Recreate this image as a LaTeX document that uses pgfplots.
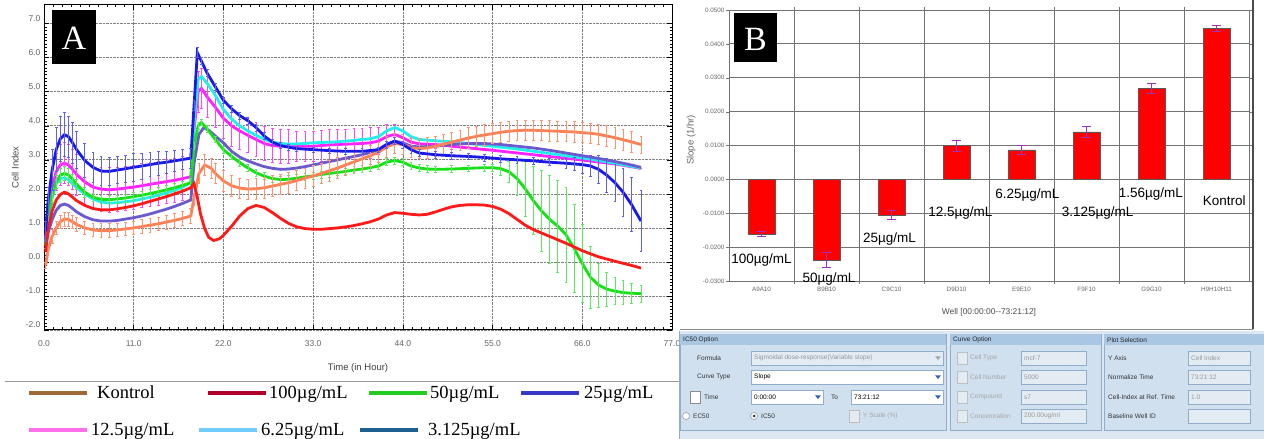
\documentclass[border=0pt]{standalone}
\usepackage{fontspec}
\setmainfont{Liberation Sans}
\newfontfamily\legfont{Liberation Serif}
\usepackage{pgfplots}
\pgfplotsset{compat=1.18}
\usepackage{pgfplotstable}

\definecolor{cBlue}{HTML}{1A1AE6}
\definecolor{cMag}{HTML}{FF22FF}
\definecolor{cCyan}{HTML}{22EEEE}
\definecolor{cGreen}{HTML}{18E018}
\definecolor{cRed}{HTML}{FF1A1A}
\definecolor{cSlate}{HTML}{6A5ACD}
\definecolor{cOrange}{HTML}{FF8055}
\definecolor{lBrown}{HTML}{A0693A}
\definecolor{lRed}{HTML}{B0002A}
\definecolor{lGreen}{HTML}{22CC22}
\definecolor{lBlue}{HTML}{3838C8}
\definecolor{lPink}{HTML}{FF70E8}
\definecolor{lSky}{HTML}{70CCFF}
\definecolor{lTeal}{HTML}{1F6090}
\definecolor{cErr}{HTML}{A030C0}
\definecolor{pBg}{HTML}{DCE7F2}
\definecolor{pGroup}{HTML}{D0E0EF}
\definecolor{pHead}{HTML}{A9C6E3}
\definecolor{pBorder}{HTML}{90AECB}
\definecolor{pDis}{HTML}{E3EBF3}
\definecolor{pArrow}{HTML}{2F5FB8}

\pgfplotstableread{
t y e
0.2 0.9 0.3
0.5 1.8 0.4
1 2.7 0.6
1.5 3.3 0.65
2 3.62 0.65
2.5 3.74 0.65
3 3.68 0.6
3.5 3.5 0.6
4 3.3 0.55
5 2.98 0.5
6 2.78 0.45
7 2.67 0.42
8 2.66 0.4
9 2.7 0.4
10 2.74 0.4
11 2.78 0.4
12 2.82 0.38
13 2.86 0.35
14 2.9 0.35
15 2.93 0.33
16 2.97 0.3
17 3.01 0.3
18 3.05 0.3
18.4 4.6 0.15
18.8 6.15 0.15
19.3 5.9 0.1
20 5.55 0.1
21 5.15 0.1
22 4.75 0.1
23 4.5 0.1
24 4.3 0.1
25 4.15 0.1
26 3.95 0.1
27 3.7 0.1
28 3.52 0.08
29 3.42 0.08
30 3.37 0.08
31 3.33 0.08
33 3.3 0.08
35 3.27 0.08
37 3.25 0.08
39 3.25 0.08
41 3.3 0.08
42 3.45 0.1
43 3.55 0.1
44 3.45 0.1
45 3.3 0.1
46 3.2 0.1
48 3.15 0.1
50 3.12 0.1
52 3.1 0.1
54 3.07 0.1
56 3.03 0.1
58 3.0 0.1
60 2.97 0.1
62 2.93 0.1
64 2.9 0.15
65 2.88 0.2
66 2.86 0.25
67 2.82 0.3
68 2.72 0.4
69 2.55 0.5
70 2.33 0.55
71 2.05 0.7
72 1.7 0.8
73.2 1.2 0.9
}\tblue

\pgfplotstableread{
t y e
0.2 0.7 0.3
0.5 1.4 0.4
1 2.2 0.5
1.5 2.65 0.55
2 2.85 0.6
2.5 2.9 0.6
3 2.85 0.6
3.5 2.72 0.6
4 2.57 0.6
5 2.35 0.65
6 2.2 0.65
7 2.14 0.65
8 2.12 0.65
9 2.14 0.65
10 2.17 0.65
11 2.2 0.65
12 2.24 0.65
13 2.28 0.65
14 2.32 0.65
15 2.36 0.65
16 2.4 0.65
17 2.45 0.65
18 2.5 0.65
18.4 3.9 0.6
18.9 5.0 0.6
19.3 5.1 0.6
20 4.85 0.6
21 4.55 0.6
22 4.22 0.6
23 4.0 0.6
24 3.85 0.55
25 3.72 0.5
26 3.6 0.5
27 3.48 0.5
28 3.42 0.5
29 3.4 0.5
30 3.4 0.5
31 3.4 0.45
32 3.4 0.45
33 3.4 0.45
34 3.42 0.45
35 3.44 0.45
36 3.45 0.45
37 3.46 0.45
38 3.47 0.45
39 3.48 0.45
40 3.5 0.45
41 3.55 0.4
42 3.68 0.35
43 3.75 0.3
44 3.65 0.2
45 3.52 0.1
46 3.47 0.1
48 3.45 0.1
50 3.4 0.1
52 3.35 0
55 3.28 0
60 3.15 0
65 3.02 0
70 2.88 0
73.2 2.75 0
}\tmag

\pgfplotstableread{
t y
0.2 0.6
0.5 1.2
1 1.9
1.5 2.3
2 2.45
2.5 2.47
3 2.42
3.5 2.3
4 2.18
5 2.0
6 1.85
7 1.76
8 1.73
9 1.74
10 1.77
11 1.8
12 1.85
13 1.9
14 1.96
15 2.03
16 2.1
17 2.2
18 2.33
18.4 4.1
18.9 5.35
19.3 5.45
20 5.25
21 4.9
22 4.48
23 4.2
24 4.0
25 3.85
26 3.72
27 3.6
28 3.52
29 3.48
30 3.46
31 3.47
32 3.48
33 3.5
34 3.51
35 3.52
36 3.53
37 3.55
38 3.57
39 3.6
40 3.62
41 3.68
42 3.85
43 3.95
44 3.85
45 3.68
46 3.6
47 3.58
48 3.56
50 3.53
52 3.48
55 3.4
58 3.32
61 3.22
64 3.12
67 3.02
70 2.9
73.2 2.76
}\tcyan

\pgfplotstableread{
t y
0.2 0.45
0.5 0.85
1 1.25
1.5 1.52
2 1.66
2.5 1.7
3 1.66
3.5 1.57
4 1.47
5 1.33
6 1.24
7 1.2
8 1.2
9 1.22
10 1.26
11 1.3
12 1.35
13 1.41
14 1.48
15 1.55
16 1.63
17 1.72
18 1.82
18.4 2.9
19 3.75
19.6 3.95
20.3 3.85
21 3.7
22 3.5
23 3.25
24 3.08
25 2.97
26 2.88
27 2.8
28 2.75
29 2.72
30 2.73
31 2.76
32 2.8
33 2.85
34 2.9
35 2.95
36 3.0
37 3.05
38 3.1
39 3.15
40 3.22
41 3.3
42 3.45
43 3.55
44 3.5
45 3.4
46 3.38
48 3.4
50 3.45
52 3.48
54 3.48
56 3.45
58 3.4
60 3.35
62 3.28
64 3.2
66 3.12
68 3.04
70 2.95
72 2.85
73.2 2.78
}\tslate

\pgfplotstableread{
t y e
0.2 0.5 0.1
0.5 1.25 0.15
1 1.95 0.2
1.5 2.35 0.2
2 2.55 0.2
2.5 2.6 0.2
3 2.55 0.2
3.5 2.43 0.15
4 2.28 0.15
5 2.05 0.15
6 1.9 0.12
7 1.84 0.12
8 1.83 0.12
9 1.85 0.12
10 1.88 0.12
11 1.92 0.12
12 1.96 0.12
13 2.01 0.12
14 2.06 0.12
15 2.12 0.12
16 2.18 0.12
17 2.25 0.12
18 2.33 0.12
18.4 3.4 0.1
18.9 4.0 0.1
19.3 4.1 0.1
20 3.9 0.1
21 3.6 0.1
22 3.3 0.1
23 3.1 0.1
24 2.92 0.1
25 2.76 0.1
26 2.62 0.1
27 2.52 0.1
28 2.45 0.1
29 2.42 0.1
30 2.43 0.1
31 2.46 0.1
32 2.5 0.1
33 2.53 0.1
34 2.57 0.1
35 2.6 0.1
36 2.63 0.1
37 2.66 0.1
38 2.7 0.1
39 2.73 0.1
40 2.77 0.1
41 2.82 0.1
42 2.93 0.1
43 2.98 0.1
44 2.93 0.1
45 2.82 0.1
46 2.76 0.1
47 2.73 0.1
48 2.72 0.1
50 2.73 0.1
52 2.75 0.1
54 2.77 0.1
55 2.77 0.1
56 2.74 0.2
57 2.65 0.3
58 2.45 0.5
59 2.15 0.8
60 1.8 1.0
61 1.5 1.2
62 1.25 1.3
63 1.05 1.35
64 0.8 1.4
65 0.4 1.3
66 -0.05 1.15
67 -0.45 0.9
68 -0.68 0.65
69 -0.8 0.5
70 -0.86 0.4
71 -0.9 0.35
72 -0.92 0.3
73.2 -0.93 0.25
}\tgreen

\pgfplotstableread{
t y
0.2 0.3
0.5 0.95
1 1.5
1.5 1.82
2 1.98
2.5 2.05
3 2.0
3.5 1.9
4 1.8
5 1.66
6 1.57
7 1.53
8 1.53
9 1.56
10 1.6
11 1.65
12 1.71
13 1.78
14 1.85
15 1.92
16 2.0
17 2.08
18 2.18
18.4 2.3
18.8 1.9
19.2 1.4
19.7 0.98
20.2 0.72
20.8 0.63
21.5 0.68
22 0.78
23 1.05
24 1.35
25 1.57
26 1.66
27 1.6
28 1.45
29 1.28
30 1.13
31 1.03
32 0.98
33 0.96
34 0.96
35 0.98
36 1.0
37 1.03
38 1.07
39 1.12
40 1.18
41 1.26
42 1.38
43 1.45
44 1.43
45 1.4
46 1.38
47 1.4
48 1.47
49 1.55
50 1.62
51 1.66
52 1.68
53 1.68
54 1.67
55 1.63
56 1.55
57 1.42
58 1.25
59 1.08
60 0.95
62 0.75
64 0.55
66 0.33
68 0.15
70 0.02
72 -0.1
73.2 -0.18
}\tred

\pgfplotstableread{
t y e
0.2 -0.1 0.1
0.5 0.35 0.15
1 0.75 0.2
1.5 1.0 0.2
2 1.18 0.2
2.5 1.26 0.2
3 1.25 0.2
3.5 1.18 0.2
4 1.1 0.2
5 1.0 0.2
6 0.94 0.2
7 0.92 0.2
8 0.92 0.2
9 0.94 0.2
10 0.97 0.2
11 1.0 0.2
12 1.04 0.2
13 1.08 0.2
14 1.12 0.2
15 1.17 0.2
16 1.22 0.2
17 1.28 0.2
18 1.35 0.22
18.4 1.9 0.25
19 2.6 0.3
19.7 2.85 0.3
20.5 2.75 0.3
21 2.6 0.3
22 2.38 0.3
23 2.24 0.3
24 2.17 0.3
25 2.14 0.3
26 2.15 0.3
27 2.18 0.3
28 2.23 0.3
29 2.28 0.3
30 2.33 0.3
31 2.39 0.3
32 2.46 0.3
33 2.53 0.3
34 2.6 0.3
35 2.68 0.3
36 2.76 0.3
37 2.85 0.3
38 2.94 0.3
39 3.03 0.3
40 3.12 0.3
41 3.22 0.3
42 3.38 0.3
43 3.48 0.3
44 3.45 0.3
45 3.36 0.3
46 3.33 0.3
47 3.35 0.3
48 3.4 0.3
49 3.46 0.3
50 3.52 0.3
51 3.58 0.3
52 3.64 0.3
53 3.69 0.3
54 3.73 0.3
55 3.77 0.3
56 3.81 0.3
57 3.84 0.3
58 3.86 0.3
59 3.87 0.3
60 3.87 0.3
61 3.86 0.3
62 3.85 0.3
63 3.84 0.3
64 3.83 0.3
65 3.82 0.3
66 3.8 0.3
67 3.78 0.3
68 3.75 0.3
69 3.7 0.3
70 3.65 0.3
71 3.59 0.3
72 3.53 0.3
73.2 3.45 0.25
}\torange

\pgfplotstableread{
x y e
0 -0.0162 0.0007
1 -0.0238 0.0022
2 -0.0105 0.0014
3 0.0100 0.0016
4 0.0087 0.0012
5 0.0140 0.0017
6 0.0268 0.0015
7 0.0446 0.0009
}\tbars

\pgfplotsset{
  mylegend/.style={
    legend style={draw=none, fill=none, inner sep=0pt, column sep=0pt, row sep=0pt,
      nodes={inner sep=0pt}, font=\legfont\fontsize{18.5}{19}\selectfont, anchor=west},
    legend cell align=left,
    legend image code/.code={\draw[##1, line width=4pt] (0pt,0pt) -- (58pt,0pt);},
  },
  errA/.style={error bars/.cd, y dir=both, y explicit,
    error bar style={line width=0.7pt, #1},
    error mark options={rotate=90, line width=0.7pt, mark size=1.4pt, #1}},
}

\newcommand{\ptxt}[3][black!80]{\node[anchor=west, inner sep=0pt, font=\fontsize{6.5}{7}\selectfont, text=#1] at (#2) {#3};}
\newcommand{\darr}[3]{\fill[#3] (#1-2.8,#2-1.5) -- (#1+2.8,#2-1.5) -- (#1,#2+2) -- cycle;}

\begin{document}
\begin{tikzpicture}[x=1pt, y=1pt]
\useasboundingbox (0pt,0pt) rectangle (1264pt,439pt);
\fill[white] (0pt,0pt) rectangle (1264pt,439pt);

% ---------------- Panel A ----------------
\begin{axis}[
  at={(44pt,109pt)}, anchor=south west, scale only axis,
  width=628pt, height=325pt,
  xmin=0, xmax=77, ymin=-2, ymax=7.55,
  xtick={0,11,...,77}, ytick={-2,-1,...,7},
  minor x tick num=9, minor y tick num=9,
  tick align=inside, major tick length=5pt, minor tick length=2.5pt,
  tick style={black, line width=0.6pt},
  axis line style={black, line width=1pt},
  grid=major, grid style={densely dotted, black!50, line width=0.7pt},
  /pgf/number format/fixed, /pgf/number format/fixed zerofill,
  /pgf/number format/precision=1, /pgf/number format/assume math mode=true,
  tick label style={font=\fontsize{8.5}{9}\selectfont, text=black!60},
  yticklabel style={yshift=5pt},
  xticklabel style={yshift=-7pt},
  xlabel={Time (in Hour)}, ylabel={Cell Index},
  xlabel style={at={(axis description cs:0.5,-0.117)}, anchor=center, font=\fontsize{9.5}{10}\selectfont, text=black!75},
  ylabel style={at={(axis description cs:-0.046,0.5)}, anchor=center, font=\fontsize{9.5}{10}\selectfont, text=black!70},
  mylegend, legend columns=4,
  legend style={at={(axis description cs:-0.02707,-0.1938)}},
]
\addplot[forget plot, cMag, line width=2.8pt, errA={cMag!85}] table[x=t, y=y, y error=e] {\tmag};
\addplot[forget plot, cCyan, line width=2.8pt] table[x=t, y=y] {\tcyan};
\addplot[forget plot, cSlate, line width=2.8pt] table[x=t, y=y] {\tslate};
\addplot[forget plot, cGreen, line width=2.8pt, errA={cGreen!70}] table[x=t, y=y, y error=e] {\tgreen};
\addplot[forget plot, cOrange, line width=2.8pt, errA={cOrange!85}] table[x=t, y=y, y error=e] {\torange};
\addplot[forget plot, cRed, line width=2.8pt] table[x=t, y=y] {\tred};
\addplot[forget plot, cBlue, line width=2.8pt, errA={cBlue!70}] table[x=t, y=y, y error=e] {\tblue};

\addlegendimage{lBrown}\addlegendentry{\makebox[117pt][l]{\hspace{8pt}Kontrol}}
\addlegendimage{lRed}\addlegendentry{\makebox[99pt][l]{\hspace{1pt}100µg/mL}}
\addlegendimage{lGreen}\addlegendentry{\makebox[90pt][l]{\hspace{1pt}50µg/mL}}
\addlegendimage{lBlue}\addlegendentry{\hspace{3pt}25µg/mL}
\end{axis}

% second legend row
\begin{axis}[
  at={(44pt,109pt)}, anchor=south west, scale only axis,
  width=628pt, height=325pt, hide axis,
  xmin=0, xmax=1, ymin=0, ymax=1,
  mylegend, legend columns=3,
  legend style={at={(axis description cs:-0.02707,-0.3077)}},
]
\addlegendimage{lPink}\addlegendentry{\makebox[108pt][l]{\hspace{2pt}12.5µg/mL}}
\addlegendimage{lSky}\addlegendentry{\makebox[99pt][l]{\hspace{2pt}6.25µg/mL}}
\addlegendimage{lTeal}\addlegendentry{\hspace{8pt}3.125µg/mL}
\end{axis}

% ---------------- Panel B ----------------
\begin{axis}[
  at={(729pt,158pt)}, anchor=south west, scale only axis,
  width=520pt, height=271pt,
  xmin=-0.5, xmax=7.5, ymin=-0.03, ymax=0.05,
  ybar, bar width=27pt, clip=false,
  xtick={0,1,2,3,4,5,6,7},
  xticklabels={A9A10,B9B10,C9C10,D9D10,E9E10,F9F10,G9G10,H9H10H11},
  minor xtick={0.5,1.5,2.5,3.5,4.5,5.5,6.5},
  ytick={-0.03,-0.02,-0.01,0,0.01,0.02,0.03,0.04,0.05},
  scaled y ticks=false,
  yticklabel style={/pgf/number format/fixed, /pgf/number format/fixed zerofill,
    /pgf/number format/precision=4, /pgf/number format/assume math mode=true, inner sep=1.5pt},
  tick label style={font=\fontsize{6.3}{7}\selectfont, text=black!60},
  xminorgrids=true, ymajorgrids=true,
  major grid style={black!55, line width=0.9pt},
  minor grid style={black!55, line width=0.9pt},
  axis line style={black!55, line width=0.9pt},
  major x tick style={draw=none},
  minor x tick style={black!55},
  ytick style={black!55}, tick align=outside, major tick length=3pt, minor tick length=3pt,
  xlabel={Well [00:00:00{-}{-}73:21:12]}, ylabel={Slope (1/hr)},
  xlabel style={at={(axis description cs:0.5,-0.114)}, anchor=center, font=\fontsize{8.4}{9}\selectfont, text=black!70},
  ylabel style={at={(axis description cs:-0.073,0.52)}, anchor=center, font=\fontsize{9.5}{10}\selectfont, text=black!60},
]
\addplot[fill=red, draw=black!65, line width=0.6pt,
  error bars/.cd, y dir=both, y explicit,
  error bar style={cErr, line width=0.8pt},
  error mark options={rotate=90, cErr, line width=0.8pt, mark size=4.5pt}]
  table[x=x, y=y, y error=e] {\tbars};
\begin{scope}[font=\fontsize{13.5}{14}\selectfont]
\node at (axis cs:0,-0.0237) {100µg/mL};
\node at (axis cs:1.04,-0.0295) {50µg/mL};
\node at (axis cs:1.97,-0.0175) {25µg/mL};
\node at (axis cs:3.06,-0.0098) {12.5µg/mL};
\node at (axis cs:4.09,-0.0045) {6.25µg/mL};
\node at (axis cs:5.17,-0.0098) {3.125µg/mL};
\node at (axis cs:5.99,-0.0044) {1.56µg/mL};
\node at (axis cs:7.12,-0.0063) {Kontrol};
\end{scope}
\end{axis}

% ---------------- decorations (pixel coordinates, y downward) ----------------
\begin{scope}[shift={(0pt,439pt)}, yscale=-1]
\fill[black] (52,10) rectangle (96,64);
\node[text=white, font=\legfont\fontsize{34}{34}\selectfont] at (74,38) {A};
\fill[black] (734,13) rectangle (777,62);
\node[text=white, font=\legfont\fontsize{34}{34}\selectfont] at (755.5,39) {B};
\draw[black!40, line width=0.8pt] (5,381) -- (679,381);
% B window frame
\draw[black!70, line width=1.4pt] (1253,0) -- (1253,329);
\draw[black!45, line width=0.8pt] (680,329) -- (1253,329);

% options panel
\fill[pBg] (679,331) rectangle (1264,439);
\draw[pBorder, line width=0.6pt] (679,331) -- (679,439);
\foreach \a/\b in {680/946, 950/1101, 1104/1264} {
  \filldraw[fill=pGroup, draw=pBorder, line width=0.6pt] (\a,334) rectangle (\b,430);
  \fill[pHead] (\a,334) rectangle (\b,345);
}
\ptxt[black!85]{683,340}{IC50 Option}
\ptxt[black!85]{953,340}{Curve Option}
\ptxt[black!85]{1107,340}{Plot Selection}

% IC50 option
\ptxt{697,358}{Formula}
\filldraw[fill=pDis, draw=pBorder, line width=0.5pt] (751,351) rectangle (943,365);
\ptxt[black!40]{754,358}{Sigmoidal dose-response(Variable slope)}
\darr{938}{358}{black!35}
\ptxt{697,377}{Curve Type}
\filldraw[fill=white, draw=pBorder, line width=0.5pt] (751,370) rectangle (943,384);
\ptxt[black]{754,377}{Slope}
\darr{938}{377}{pArrow}
\filldraw[fill=white, draw=black!45, line width=0.5pt] (690,391) rectangle (700,403);
\ptxt{704,397}{Time}
\filldraw[fill=white, draw=pBorder, line width=0.5pt] (751,390) rectangle (823,404);
\ptxt[black]{754,397}{0:00:00}
\darr{818}{397}{pArrow}
\ptxt{831,397}{To}
\filldraw[fill=white, draw=pBorder, line width=0.5pt] (851,390) rectangle (943,404);
\ptxt[black]{854,397}{73:21:12}
\darr{938}{397}{pArrow}
\filldraw[fill=white, draw=black!45, line width=0.5pt] (686,416) circle (3.5);
\ptxt{693,416}{EC50}
\filldraw[fill=white, draw=black!45, line width=0.5pt] (754,416) circle (3.5);
\fill[black!80] (754,416) circle (1.5);
\ptxt{761,416}{IC50}
\filldraw[fill=pDis, draw=black!25, line width=0.5pt] (849,410) rectangle (859,422);
\ptxt[black!35]{863,416}{Y Scale (\%)}

% Curve option
\foreach \yy/\lab/\val in {358/Cell Type/mcf-7, 377/Cell Number/5000, 397/Compound/s7, 416/Concentration/{200.00ug/ml}} {
  \filldraw[fill=pDis, draw=black!25, line width=0.5pt] (957,\yy-6) rectangle (967,\yy+6);
  \ptxt[black!35]{970,\yy}{\lab}
  \filldraw[fill=pDis, draw=pBorder, line width=0.5pt] (1021,\yy-7) rectangle (1086,\yy+7);
  \ptxt[black!40]{1024,\yy}{\val}
}

% Plot selection
\foreach \yy/\lab/\val in {358/Y Axis/Cell Index, 377/Normalize Time/73:21:12, 397/Cell-Index at Ref. Time/1.0, 416/Baseline Well ID/{}} {
  \ptxt{1108,\yy}{\lab}
  \filldraw[fill=pDis, draw=pBorder, line width=0.5pt] (1188,\yy-7) rectangle (1250,\yy+7);
  \ptxt[black!40]{1191,\yy}{\val}
}
\end{scope}
\end{tikzpicture}
\end{document}
